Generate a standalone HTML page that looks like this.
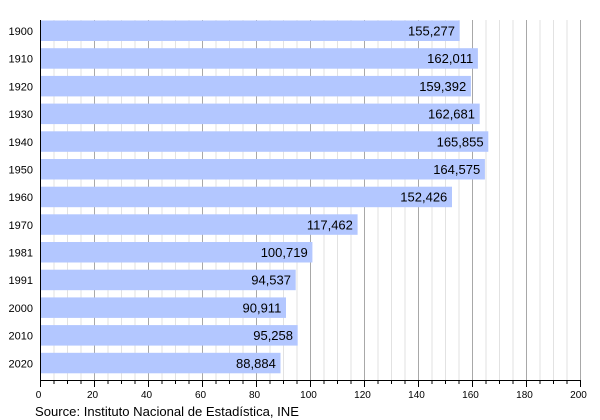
<!DOCTYPE html>
<html><head><meta charset="utf-8"><style>
html,body{margin:0;padding:0;background:#fff;}
svg{display:block;}
text{font-family:"Liberation Sans",Arial,sans-serif;fill:#000;}
</style></head><body>
<svg width="600" height="420" viewBox="0 0 600 420" xmlns="http://www.w3.org/2000/svg">
<rect width="600" height="420" fill="#fff"/>
<g id="grid" shape-rendering="crispEdges">
<!-- minor lines every 5 units (13.5px), major every 20 units -->
<g stroke="#e2e2e2" stroke-width="1">
<line x1="54" y1="20" x2="54" y2="380"/><line x1="67.5" y1="20" x2="67.5" y2="380"/><line x1="81" y1="20" x2="81" y2="380"/>
<line x1="108" y1="20" x2="108" y2="380"/><line x1="121.5" y1="20" x2="121.5" y2="380"/><line x1="135" y1="20" x2="135" y2="380"/>
<line x1="162" y1="20" x2="162" y2="380"/><line x1="175.5" y1="20" x2="175.5" y2="380"/><line x1="189" y1="20" x2="189" y2="380"/>
<line x1="216" y1="20" x2="216" y2="380"/><line x1="229.5" y1="20" x2="229.5" y2="380"/><line x1="243" y1="20" x2="243" y2="380"/>
<line x1="270" y1="20" x2="270" y2="380"/><line x1="283.5" y1="20" x2="283.5" y2="380"/><line x1="297" y1="20" x2="297" y2="380"/>
<line x1="324" y1="20" x2="324" y2="380"/><line x1="337.5" y1="20" x2="337.5" y2="380"/><line x1="351" y1="20" x2="351" y2="380"/>
<line x1="378" y1="20" x2="378" y2="380"/><line x1="391.5" y1="20" x2="391.5" y2="380"/><line x1="405" y1="20" x2="405" y2="380"/>
<line x1="432" y1="20" x2="432" y2="380"/><line x1="445.5" y1="20" x2="445.5" y2="380"/><line x1="459" y1="20" x2="459" y2="380"/>
<line x1="486" y1="20" x2="486" y2="380"/><line x1="499.5" y1="20" x2="499.5" y2="380"/><line x1="513" y1="20" x2="513" y2="380"/>
<line x1="540" y1="20" x2="540" y2="380"/><line x1="553.5" y1="20" x2="553.5" y2="380"/><line x1="567" y1="20" x2="567" y2="380"/>
</g>
<g stroke="#a8a8a8" stroke-width="1">
<line x1="94.5" y1="20" x2="94.5" y2="380"/><line x1="148.5" y1="20" x2="148.5" y2="380"/><line x1="202.5" y1="20" x2="202.5" y2="380"/>
<line x1="256.5" y1="20" x2="256.5" y2="380"/><line x1="310.5" y1="20" x2="310.5" y2="380"/><line x1="364.5" y1="20" x2="364.5" y2="380"/>
<line x1="418.5" y1="20" x2="418.5" y2="380"/><line x1="472.5" y1="20" x2="472.5" y2="380"/><line x1="526.5" y1="20" x2="526.5" y2="380"/>
<line x1="580.5" y1="20" x2="580.5" y2="380"/>
</g>
</g>
<g id="bars" fill="#b3c7ff">
<rect x="40.5" y="20.5" width="419.2" height="20.5"/>
<rect x="40.5" y="48.2" width="437.4" height="20.5"/>
<rect x="40.5" y="75.9" width="430.4" height="20.5"/>
<rect x="40.5" y="103.6" width="439.2" height="20.5"/>
<rect x="40.5" y="131.3" width="447.8" height="20.5"/>
<rect x="40.5" y="159.0" width="444.4" height="20.5"/>
<rect x="40.5" y="186.7" width="411.5" height="20.5"/>
<rect x="40.5" y="214.3" width="317.1" height="20.5"/>
<rect x="40.5" y="242.0" width="271.9" height="20.5"/>
<rect x="40.5" y="269.7" width="255.2" height="20.5"/>
<rect x="40.5" y="297.4" width="245.5" height="20.5"/>
<rect x="40.5" y="325.1" width="257.2" height="20.5"/>
<rect x="40.5" y="352.8" width="240.0" height="20.5"/>
</g>
<g id="values" font-size="13" text-anchor="end">
<text x="455" y="35.5">155,277</text>
<text x="473.2" y="63.2">162,011</text>
<text x="466.2" y="90.9">159,392</text>
<text x="475" y="118.6">162,681</text>
<text x="483.6" y="146.3">165,855</text>
<text x="480.2" y="174">164,575</text>
<text x="447.3" y="201.7">152,426</text>
<text x="352.9" y="229.3">117,462</text>
<text x="307.7" y="257">100,719</text>
<text x="291" y="284.7">94,537</text>
<text x="281.3" y="312.4">90,911</text>
<text x="293" y="340.1">95,258</text>
<text x="275.8" y="367.8">88,884</text>
</g>
<g id="years" font-size="11" text-anchor="end">
<text x="33" y="35">1900</text>
<text x="33" y="62.7">1910</text>
<text x="33" y="90.4">1920</text>
<text x="33" y="118.1">1930</text>
<text x="33" y="145.8">1940</text>
<text x="33" y="173.5">1950</text>
<text x="33" y="201.2">1960</text>
<text x="33" y="228.8">1970</text>
<text x="33" y="256.5">1981</text>
<text x="33" y="284.2">1991</text>
<text x="33" y="311.9">2000</text>
<text x="33" y="339.6">2010</text>
<text x="33" y="367.3">2020</text>
</g>
<g id="axes" stroke="#000" stroke-width="1" shape-rendering="crispEdges">
<line x1="40.5" y1="20" x2="40.5" y2="381"/>
<line x1="40" y1="380.5" x2="581" y2="380.5"/>
<!-- major ticks -->
<line x1="40.5" y1="380" x2="40.5" y2="387"/><line x1="94.5" y1="380" x2="94.5" y2="387"/><line x1="148.5" y1="380" x2="148.5" y2="387"/>
<line x1="202.5" y1="380" x2="202.5" y2="387"/><line x1="256.5" y1="380" x2="256.5" y2="387"/><line x1="310.5" y1="380" x2="310.5" y2="387"/>
<line x1="364.5" y1="380" x2="364.5" y2="387"/><line x1="418.5" y1="380" x2="418.5" y2="387"/><line x1="472.5" y1="380" x2="472.5" y2="387"/>
<line x1="526.5" y1="380" x2="526.5" y2="387"/><line x1="580.5" y1="380" x2="580.5" y2="387"/>
<!-- minor ticks -->
<g>
<line x1="54" y1="380" x2="54" y2="384"/><line x1="67.5" y1="380" x2="67.5" y2="384"/><line x1="81" y1="380" x2="81" y2="384"/>
<line x1="108" y1="380" x2="108" y2="384"/><line x1="121.5" y1="380" x2="121.5" y2="384"/><line x1="135" y1="380" x2="135" y2="384"/>
<line x1="162" y1="380" x2="162" y2="384"/><line x1="175.5" y1="380" x2="175.5" y2="384"/><line x1="189" y1="380" x2="189" y2="384"/>
<line x1="216" y1="380" x2="216" y2="384"/><line x1="229.5" y1="380" x2="229.5" y2="384"/><line x1="243" y1="380" x2="243" y2="384"/>
<line x1="270" y1="380" x2="270" y2="384"/><line x1="283.5" y1="380" x2="283.5" y2="384"/><line x1="297" y1="380" x2="297" y2="384"/>
<line x1="324" y1="380" x2="324" y2="384"/><line x1="337.5" y1="380" x2="337.5" y2="384"/><line x1="351" y1="380" x2="351" y2="384"/>
<line x1="378" y1="380" x2="378" y2="384"/><line x1="391.5" y1="380" x2="391.5" y2="384"/><line x1="405" y1="380" x2="405" y2="384"/>
<line x1="432" y1="380" x2="432" y2="384"/><line x1="445.5" y1="380" x2="445.5" y2="384"/><line x1="459" y1="380" x2="459" y2="384"/>
<line x1="486" y1="380" x2="486" y2="384"/><line x1="499.5" y1="380" x2="499.5" y2="384"/><line x1="513" y1="380" x2="513" y2="384"/>
<line x1="540" y1="380" x2="540" y2="384"/><line x1="553.5" y1="380" x2="553.5" y2="384"/><line x1="567" y1="380" x2="567" y2="384"/>
</g>
</g>
<g id="xlabels" font-size="10" text-anchor="middle">
<text x="38.5" y="398">0</text>
<text x="92.5" y="398">20</text>
<text x="146.5" y="398">40</text>
<text x="200.5" y="398">60</text>
<text x="254.5" y="398">80</text>
<text x="308.5" y="398">100</text>
<text x="362.5" y="398">120</text>
<text x="416.5" y="398">140</text>
<text x="470.5" y="398">160</text>
<text x="524.5" y="398">180</text>
<text x="578.5" y="398">200</text>
</g>
<text x="35" y="416" font-size="13" textLength="264" lengthAdjust="spacingAndGlyphs">Source: Instituto Nacional de Estadística, INE</text>
</svg>
</body></html>
